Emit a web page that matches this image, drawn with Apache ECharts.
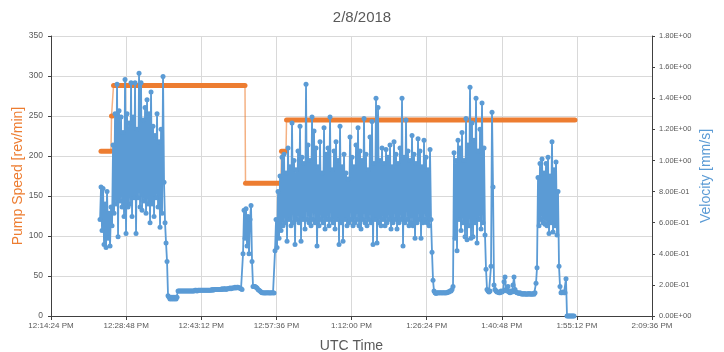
<!DOCTYPE html>
<html>
<head>
<meta charset="utf-8">
<script src="https://cdn.jsdelivr.net/npm/echarts@6/dist/echarts.min.js"></script>
<style>
  html, body { margin: 0; padding: 0; background: #fff; }
  #chart { width: 724px; height: 352px; }
</style>
</head>
<body>
<div id="chart"></div>
<script>
// Pump speed set points: each run holds one level between a start and end time (UTC)
const pumpRunStart = ["12:23:59", "12:26:00", "12:26:23", "12:51:41", "12:58:35", "12:59:33"];
const pumpRunEnd   = ["12:25:54", "12:26:12", "12:51:35", "12:58:29", "12:59:27", "13:54:50"];
const pumpLevels   = [206, 250, 288, 166, 206, 245];

// Velocity log: first sample time and sampling step in seconds
const velStart = "12:23:48";
const velStepSec = 11.5;
// Velocity samples [mm/s], ten per row
const velocity = [
  // first burst
  0.62, 0.83, 0.55, 0.82, 0.46, 0.72, 0.44, 0.80, 0.50, 0.66,
  0.45, 0.70, 0.58,
  1.10, 0.66, 1.30, 0.72, 1.49, 0.51, 1.32, 0.74, 1.28, 0.70,
  1.18, 0.64, 1.52, 0.53, 1.30, 0.70, 1.24, 0.72, 1.50, 0.64,
  1.28, 0.76, 1.50, 0.53, 1.20, 0.76, 1.56, 0.70, 1.50, 0.68,
  1.26, 0.74, 1.34, 0.66, 1.39, 0.72, 1.30, 0.60, 1.44, 0.72,
  1.22, 0.64, 1.16, 0.76, 1.30, 0.70, 1.12, 0.57, 1.20, 0.66,
  1.54, 0.86, 0.60, 0.47,
  // drop and quiet stretch
  0.35, 0.13, 0.12, 0.11, 0.12, 0.11, 0.12, 0.11, 0.12, 0.11,
  0.12, 0.16,
  0.16, 0.16, 0.16, 0.16, 0.16, 0.16, 0.16, 0.16, 0.16, 0.16,
  0.16, 0.16, 0.16, 0.16, 0.16, 0.16, 0.165, 0.165, 0.16, 0.165,
  0.165, 0.165, 0.165, 0.165, 0.165, 0.165, 0.165, 0.165, 0.165, 0.165,
  0.165, 0.165, 0.165, 0.17, 0.165, 0.17, 0.17, 0.17, 0.17, 0.17,
  0.17, 0.17, 0.17, 0.175, 0.17, 0.175, 0.175, 0.17, 0.175, 0.175,
  0.175, 0.18, 0.175, 0.18, 0.18, 0.18, 0.185, 0.18, 0.185, 0.185,
  0.18, 0.18, 0.175, 0.17,
  // short burst
  0.40, 0.68, 0.50, 0.69, 0.45, 0.64, 0.40, 0.62, 0.71, 0.35,
  // quiet
  0.19, 0.19, 0.19, 0.185, 0.18, 0.17, 0.165, 0.16, 0.155, 0.15,
  0.15, 0.148, 0.15, 0.148, 0.15, 0.15, 0.148, 0.15, 0.148, 0.15,
  0.15, 0.148,
  // long active period
  0.42, 0.62, 0.44, 0.80, 0.50, 0.90, 0.55, 1.02, 0.58, 1.04,
  0.60, 0.92, 0.48, 1.08, 0.62, 0.96, 0.58, 1.24, 0.60, 1.00,
  0.46, 0.94, 0.62, 1.06, 0.60, 1.22, 0.48, 1.02, 0.62, 0.98,
  0.56, 1.49, 0.62, 1.10, 0.60, 1.00, 0.58, 1.28, 0.62, 1.19,
  0.60, 1.08, 0.45, 0.96, 0.58, 1.12, 0.62, 0.92, 0.60, 1.21,
  0.56, 1.04, 0.62, 1.08, 0.58, 1.28, 0.62, 0.94, 0.60, 1.06,
  0.56, 1.12, 0.62, 1.00, 0.46, 1.22, 0.60, 0.96, 0.48, 1.04,
  0.62, 0.92, 0.58, 0.88, 0.60, 1.15, 0.62, 1.02, 0.58, 0.96,
  0.60, 1.10, 0.62, 1.21, 0.58, 1.06, 0.56, 1.00, 0.62, 1.27,
  0.60, 1.04, 0.58, 0.94, 0.62, 1.15, 0.60, 1.25, 0.46, 0.98,
  0.62, 1.40, 0.47, 1.34, 0.60, 1.00, 0.58, 1.08, 0.62, 0.98,
  0.58, 1.07, 0.60, 1.02, 0.62, 1.10, 0.56, 0.96, 0.60, 1.12,
  0.62, 1.04, 0.56, 0.98, 0.60, 1.08, 0.62, 1.40, 0.45, 1.02,
  0.60, 1.26, 0.62, 1.06, 0.58, 1.00, 0.60, 1.16, 0.58, 1.04,
  0.50, 0.98, 0.60, 1.14, 0.62, 1.06, 0.50, 0.96, 0.60, 1.13,
  0.62, 1.02, 0.60, 0.94, 0.58, 1.07, 0.62, 0.41,
  // quiet
  0.23, 0.16, 0.15, 0.145, 0.15, 0.15, 0.148, 0.15, 0.15, 0.148,
  0.15, 0.15, 0.148, 0.15, 0.15, 0.155, 0.155, 0.16, 0.16, 0.17,
  0.19,
  // burst
  1.05, 0.50, 1.00, 0.42, 1.13, 0.62, 1.08, 0.55, 1.18, 0.60,
  1.00, 0.51, 1.27, 0.49, 1.10, 0.58, 1.47, 0.50, 1.24, 0.51,
  1.13, 0.60, 1.40, 0.47, 1.06, 0.62, 1.20, 0.56, 1.37, 0.60,
  1.08, 0.52,
  // quiet with a single spike
  0.30, 0.17, 0.16, 0.155, 0.16, 0.32, 1.31, 0.83, 0.20, 0.17,
  0.16, 0.155, 0.155, 0.15, 0.15, 0.16, 0.155, 0.16, 0.22, 0.25,
  0.17, 0.16, 0.19, 0.155, 0.15, 0.16, 0.155, 0.20, 0.25, 0.17,
  0.155, 0.15, 0.15, 0.145, 0.15, 0.145, 0.14, 0.145, 0.14, 0.145,
  0.14, 0.14, 0.145, 0.14, 0.145, 0.14, 0.14, 0.145, 0.14, 0.15,
  // last burst
  0.21, 0.31, 0.89, 0.58, 0.98, 0.62, 1.01, 0.60, 0.92, 0.59,
  0.98, 0.58, 1.02, 0.53, 0.90, 0.60, 1.12, 0.54, 0.94, 0.58,
  0.99, 0.52, 0.80, 0.32, 0.19, 0.15,
  0.15, 0.155, 0.15, 0.15, 0.24,
  // stopped
  0, 0, 0, 0, 0, 0, 0, 0
];

// Time axis, seconds after midnight
const xTickStart = "12:14:24";
const xTickEnd = "14:09:36";
const xTickStepSec = 864;

function toSec(hms) {
  const p = hms.split(":").map(Number);
  return p[0] * 3600 + p[1] * 60 + p[2];
}
function fmtTime(s) {
  s = Math.round(s);
  let h = Math.floor(s / 3600);
  const m = Math.floor((s % 3600) / 60);
  const sec = s % 60;
  const ampm = h >= 12 ? "PM" : "AM";
  h = h % 12; if (h === 0) h = 12;
  return h + ":" + String(m).padStart(2, "0") + ":" + String(sec).padStart(2, "0") + " " + ampm;
}
function fmtSci(v) {
  const parts = Number(v).toExponential(2).split("e");
  const e = parts[1];
  return parts[0] + "E" + e[0] + e.slice(1).padStart(2, "0");
}

const ORANGE = "#ED7D31";
const BLUE = "#5B9BD5";
const GREY = "#595959";
const FONT = "Liberation Sans";

const t0 = toSec(velStart);
const velData = velocity.map((v, i) => [t0 + i * velStepSec, v]);

const pumpPath = [];
pumpLevels.forEach((lv, i) => {
  pumpPath.push([toSec(pumpRunStart[i]), lv]);
  pumpPath.push([toSec(pumpRunEnd[i]), lv]);
});

const pumpRunSeries = pumpLevels.map((lv, i) => ({
  type: "line",
  yAxisIndex: 0,
  data: [[toSec(pumpRunStart[i]), lv], [toSec(pumpRunEnd[i]), lv]],
  symbol: "none",
  lineStyle: { color: ORANGE, width: 5, cap: "round" },
  z: 3,
  silent: true
}));

const chart = echarts.init(document.getElementById("chart"), null, { renderer: "canvas" });
chart.setOption({
  animation: false,
  backgroundColor: "#fff",
  title: {
    text: "2/8/2018",
    left: "center",
    top: 5,
    textStyle: { fontFamily: FONT, fontSize: 15, fontWeight: "normal", color: GREY }
  },
  grid: { left: 51, right: 72, top: 36, bottom: 36, containLabel: false, outerBoundsMode: "none" },
  xAxis: {
    type: "value",
    min: toSec(xTickStart),
    max: toSec(xTickEnd),
    interval: xTickStepSec,
    name: "UTC Time",
    nameLocation: "middle",
    nameGap: 23,
    nameMoveOverlap: false,
    nameTextStyle: { fontFamily: FONT, fontSize: 14, color: GREY },
    axisLine: { lineStyle: { color: "#404040", width: 1 } },
    axisTick: { show: true, length: 4, lineStyle: { color: "#404040" } },
    axisLabel: { fontFamily: FONT, fontSize: 8, color: GREY, margin: 6, formatter: fmtTime },
    splitLine: { show: true, lineStyle: { color: "#D9D9D9", width: 1 } }
  },
  yAxis: [
    {
      type: "value",
      min: 0,
      max: 350,
      interval: 50,
      position: "left",
      name: "Pump Speed [rev/min]",
      nameLocation: "middle",
      nameRotate: 90,
      nameGap: 26,
      nameMoveOverlap: false,
      nameTextStyle: { fontFamily: FONT, fontSize: 14, color: ORANGE },
      axisLine: { show: true, lineStyle: { color: "#404040", width: 1 } },
      axisTick: { show: true, length: 3, lineStyle: { color: "#404040" } },
      axisLabel: { fontFamily: FONT, fontSize: 8.5, color: GREY, margin: 8 },
      splitLine: { show: true, lineStyle: { color: "#D9D9D9", width: 1 } }
    },
    {
      type: "value",
      min: 0,
      max: 1.8,
      interval: 0.2,
      position: "right",
      name: "Velocity [mm/s]",
      nameLocation: "middle",
      nameRotate: 90,
      nameGap: 47,
      nameMoveOverlap: false,
      nameTextStyle: { fontFamily: FONT, fontSize: 14, color: BLUE },
      axisLine: { show: true, lineStyle: { color: "#404040", width: 1 } },
      axisTick: { show: true, length: 3, lineStyle: { color: "#404040" } },
      axisLabel: { fontFamily: FONT, fontSize: 7.5, color: GREY, margin: 7, formatter: fmtSci },
      splitLine: { show: false }
    }
  ],
  series: [
    {
      type: "line",
      name: "Pump Speed",
      yAxisIndex: 0,
      data: pumpPath,
      symbol: "none",
      lineStyle: { color: ORANGE, width: 1.5, opacity: 0.6 },
      z: 2,
      silent: true
    },
    ...pumpRunSeries,
    {
      type: "line",
      name: "Velocity",
      yAxisIndex: 1,
      data: velData,
      symbol: "circle",
      symbolSize: 5,
      showAllSymbol: true,
      itemStyle: { color: BLUE },
      lineStyle: { color: BLUE, width: 1.8 },
      z: 5,
      silent: true
    }
  ]
});
</script>
</body>
</html>
